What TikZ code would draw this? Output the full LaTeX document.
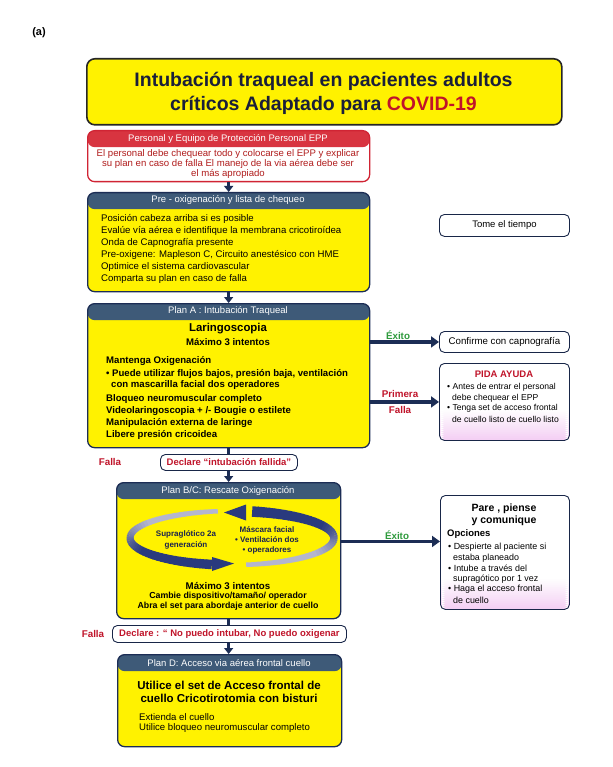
\documentclass[tikz,border=0pt]{standalone}
\usepackage{fontspec}
\setmainfont{Liberation Sans}
\usetikzlibrary{arrows.meta}
\definecolor{navy}{HTML}{1C2D55}
\definecolor{hdrblue}{HTML}{3E5A78}
\definecolor{hdrred}{HTML}{D83440}
\definecolor{eppred}{HTML}{D02434}
\definecolor{txtred}{HTML}{B01C1C}
\definecolor{lblred}{HTML}{C0142A}
\definecolor{lblgreen}{HTML}{2E9A3C}
\definecolor{arcdark}{HTML}{2A3A7E}
\definecolor{arclight}{HTML}{B4B6CE}
\definecolor{pinkish}{HTML}{F4D0F4}
\definecolor{titletxt}{HTML}{1A1F3A}
\definecolor{cycletxt}{HTML}{1A2250}
\tikzset{
  panel/.style={draw=navy, line width=1.3pt, rounded corners=7pt, fill=yellow, anchor=north west, inner sep=0pt,
    path picture={\fill[#1] (path picture bounding box.north west) rectangle ([yshift=-16.5pt]path picture bounding box.north east);}},
  wbox/.style={draw=navy!85!black, line width=0.9pt, rounded corners=5pt, fill=white, anchor=north west, inner sep=0pt},
  pinkbox/.style={wbox, path picture={
    \foreach \i in {0,...,15}{
      \pgfmathtruncatemacro\pp{\i*100/15}
      \pgfmathsetmacro\ya{32-2*\i}
      \pgfmathsetmacro\yb{29.6-2*\i}
      \fill[pinkish!\pp!white] ([yshift=\ya pt]path picture bounding box.south west) rectangle ([yshift=\yb pt]path picture bounding box.south east);
    }}},
  hdrtext/.style={text=white, font=\fontsize{9.5}{11}\selectfont},
  body/.style={anchor=west, inner sep=0pt, font=\fontsize{9.6}{11}\selectfont},
  bodyb/.style={anchor=west, inner sep=0pt, font=\bfseries\fontsize{9.6}{11}\selectfont},
  small/.style={anchor=west, inner sep=0pt, font=\fontsize{8.6}{10}\selectfont},
  tiny/.style={anchor=west, inner sep=0pt, font=\fontsize{8.9}{10}\selectfont},
  lbl/.style={font=\bfseries\fontsize{9.8}{11}\selectfont, inner sep=0pt},
  conn/.style={draw=navy, line width=2.4pt},
  down/.style={conn, -{Triangle[width=9pt,length=6pt]}},
  side/.style={draw=navy, line width=3.2pt, -{Triangle[width=11pt,length=8pt]}},
}
\begin{document}
\begin{tikzpicture}[x=1pt,y=-1pt]
\useasboundingbox[fill=white] (0,0) rectangle (612,767);

\node[font=\bfseries\fontsize{11}{13}\selectfont, inner sep=0pt] (lab) at (39,33) {(a)};

% title
\node[draw=black!85, line width=1.6pt, rounded corners=8pt, fill=yellow, anchor=north west, inner sep=0pt,
  minimum width=475pt, minimum height=66pt] (title) at (86,58) {};
\node[font=\bfseries\fontsize{19.5}{24}\selectfont, text=titletxt, align=center, inner sep=0pt] (titletext) at (323.5,93)
  {Intubación traqueal en pacientes adultos\\críticos Adaptado para \textcolor{lblred}{COVID-19}};

% EPP
\node[panel=hdrred, draw=eppred, fill=white, minimum width=282pt, minimum height=51pt] (epp) at (87,130) {};
\node[hdrtext] (epph) at (228,139) {Personal y Equipo de Protección Personal EPP};
\node[font=\fontsize{9.6}{9.8}\selectfont, text=txtred, align=center, inner sep=0pt] (eppb) at (228,164)
  {El personal debe chequear todo y colocarse el EPP y explicar\\su plan en caso de falla El manejo de la via aérea debe ser\\el más apropiado};

% Pre-oxygenation
\node[panel=hdrblue, minimum width=282pt, minimum height=99pt] (preox) at (87,192) {};
\node[hdrtext] (preoxh) at (228,200) {Pre - oxigenación y lista de chequeo};
\node[body] (p1) at (101,218.5) {Posición cabeza arriba si es posible};
\node[body] (p2) at (101,230.7) {Evalúe vía aérea e identifique la membrana cricotiroídea};
\node[body] (p3) at (101,242.9) {Onda de Capnografía presente};
\node[body] (p4) at (101,255.1) {Pre-oxigene: Mapleson C, Circuito anestésico con HME};
\node[body] (p5) at (101,267.3) {Optimice el sistema cardiovascular};
\node[body] (p6) at (101,279.5) {Comparta su plan en caso de falla};

% Plan A
\node[panel=hdrblue, minimum width=282pt, minimum height=144pt] (planA) at (87,303) {};
\node[hdrtext] (planAh) at (228,311) {Plan A : Intubación Traqueal};
\node[font=\bfseries\fontsize{11.4}{13}\selectfont, inner sep=0pt] (a1) at (228,329) {Laringoscopia};
\node[font=\bfseries\fontsize{9.6}{11}\selectfont, inner sep=0pt] (a2) at (228,342) {Máximo 3 intentos};
\node[bodyb] (a3) at (106,361) {Mantenga Oxigenación};
\node[bodyb] (a4) at (106,373.5) {• Puede utilizar flujos bajos, presión baja, ventilación};
\node[bodyb] (a5) at (111,385) {con mascarilla facial dos operadores};
\node[bodyb] (a6) at (106,399) {Bloqueo neuromuscular completo};
\node[bodyb] (a7) at (106,411) {Videolaringoscopia + /- Bougie o estilete};
\node[bodyb] (a8) at (106,423) {Manipulación externa de laringe};
\node[bodyb] (a9) at (106,435) {Libere presión cricoidea};

% Declare 1
\node[wbox, minimum width=137pt, minimum height=16pt, text=lblred, font=\bfseries\fontsize{9.5}{11}\selectfont] (decl1) at (160,454) {Declare “intubación fallida”};
\node[lbl, text=lblred] (falla1) at (110,462) {Falla};

% Plan B/C
\node[panel=hdrblue, minimum width=224pt, minimum height=136pt] (planBC) at (116,482) {};
\node[hdrtext] (planBCh) at (228,491) {Plan B/C: Rescate Oxigenación};
% cycle ribbons
\foreach \k in {0,...,49} {
  \pgfmathsetmacro\ta{262-\k*3.2}
  \pgfmathsetmacro\tb{262-(\k+1)*3.2-0.6}
  \pgfmathtruncatemacro\p{min(100,max(0,(\k-14)*5))}
  \pgfmathsetmacro\w{4.5+5*\k/49}
  \draw[line width=\w pt, color=arcdark!\p!arclight] ({232+102*cos(\ta)},{538+27*sin(\ta)}) -- ({232+102*cos(\tb)},{538+27*sin(\tb)});
}
\fill[arcdark] (212,557) -- (234,563.5) -- (212,571) -- cycle;
\foreach \k in {0,...,49} {
  \pgfmathsetmacro\ta{82-\k*3.2}
  \pgfmathsetmacro\tb{82-(\k+1)*3.2-0.6}
  \pgfmathtruncatemacro\p{min(100,max(0,(\k-14)*5))}
  \pgfmathsetmacro\w{4.5+6*\k/49}
  \draw[line width=\w pt, color=arcdark!\p!arclight] ({232+102*cos(\ta)},{538+27*sin(\ta)}) -- ({232+102*cos(\tb)},{538+27*sin(\tb)});
}
\fill[arcdark] (246,504.5) -- (224,512.5) -- (246,520.5) -- cycle;
\node[font=\bfseries\fontsize{8}{11}\selectfont, text=cycletxt, align=center, inner sep=0pt] (supra) at (186,539.5) {Supraglótico 2a\\generación};
\node[font=\bfseries\fontsize{8}{10}\selectfont, text=cycletxt, align=center, inner sep=0pt] (masc) at (267,540) {Máscara facial\\• Ventilación dos\\• operadores};
\node[font=\bfseries\fontsize{9.7}{11}\selectfont, inner sep=0pt] (b1) at (228,586) {Máximo 3 intentos};
\node[font=\bfseries\fontsize{8.8}{10}\selectfont, inner sep=0pt] (b2) at (228,596.5) {Cambie dispositivo/tamaño/ operador};
\node[font=\bfseries\fontsize{8.8}{10}\selectfont, inner sep=0pt] (b3) at (228,606.5) {Abra el set para abordaje anterior de cuello};

% Declare 2
\node[wbox, minimum width=234pt, minimum height=17pt, text=lblred, font=\bfseries\fontsize{9.5}{11}\selectfont] (decl2) at (112,625) {Declare : “ No puedo intubar, No puedo oxigenar};
\node[lbl, text=lblred] (falla2) at (93,633.5) {Falla};

% Plan D
\node[panel=hdrblue, minimum width=224pt, minimum height=92pt] (planD) at (117,654) {};
\node[hdrtext] (planDh) at (229,663) {Plan D: Acceso via aérea frontal cuello};
\node[font=\bfseries\fontsize{11.5}{12.5}\selectfont, align=center, inner sep=0pt] (d1) at (229,692) {Utilice el set de Acceso frontal de\\cuello Cricotirotomia con bisturi};
\node[body] (d2) at (139,717) {Extienda el cuello};
\node[body] (d3) at (139,728.5) {Utilice bloqueo neuromuscular completo};

% right column
\node[wbox, minimum width=130pt, minimum height=22pt, font=\fontsize{9.5}{11}\selectfont] (tome) at (439,214) {Tome el tiempo};
\node[wbox, minimum width=130pt, minimum height=21pt, font=\fontsize{9.7}{11}\selectfont] (confirm) at (439,331) {Confirme con capnografía};
\node[pinkbox, minimum width=130pt, minimum height=77pt] (pida) at (439,363) {};
\node[font=\bfseries\fontsize{9.5}{11}\selectfont, text=lblred, inner sep=0pt] (pidat) at (504,374) {PIDA AYUDA};
\node[small] (pi1) at (447,387.5) {• Antes de entrar el personal};
\node[small] (pi2) at (452,398) {debe chequear el EPP};
\node[small] (pi3) at (447,408.5) {• Tenga set de acceso frontal};
\node[small] (pi4) at (452,419) {de cuello listo de cuello listo};

\node[pinkbox, minimum width=129pt, minimum height=114pt] (pare) at (440,495) {};
\node[font=\bfseries\fontsize{10.5}{12}\selectfont, align=center, inner sep=0pt] (paret) at (504,515) {Pare , piense\\y comunique};
\node[anchor=west, font=\bfseries\fontsize{9.5}{11}\selectfont, inner sep=0pt] (opc) at (447,534) {Opciones};
\node[tiny] (o1) at (448,547.5) {• Despierte al paciente si};
\node[tiny] (o2) at (453,558) {estaba planeado};
\node[tiny] (o3) at (448,568.5) {• Intube a través del};
\node[tiny] (o4) at (453,579) {supragótico por 1 vez};
\node[tiny] (o5) at (448,589.5) {• Haga el acceso frontal};
\node[tiny] (o6) at (453,600) {de cuello};

% connectors
\draw[down] (epp.south -| preox.north) -- (preox.north);
\draw[down] (preox.south) -- (planA.north);
\draw[conn] (planA.south) -- (planA.south |- decl1.north);
\draw[down] (planA.south |- decl1.south) -- (planA.south |- planBC.north);
\draw[conn] (planBC.south) -- (planBC.south |- decl2.north);
\draw[down] (planBC.south |- decl2.south) -- (planBC.south |- planD.north);

\draw[side] (planA.east |- confirm.west) -- (confirm.west);
\draw[side] (planA.east |- pida.west) -- (pida.west);
\coordinate (pareIn) at ([yshift=11pt]pare.west);
\draw[side] (planBC.east |- pareIn) -- (pareIn);

\node[lbl, text=lblgreen] (exito1) at (398,335) {Éxito};
\node[lbl, text=lblred] (prim) at (400,394) {Primera};
\node[lbl, text=lblred] (falla3) at (400,410) {Falla};
\node[lbl, text=lblgreen] (exito2) at (397,535) {Éxito};
\end{tikzpicture}
\end{document}
